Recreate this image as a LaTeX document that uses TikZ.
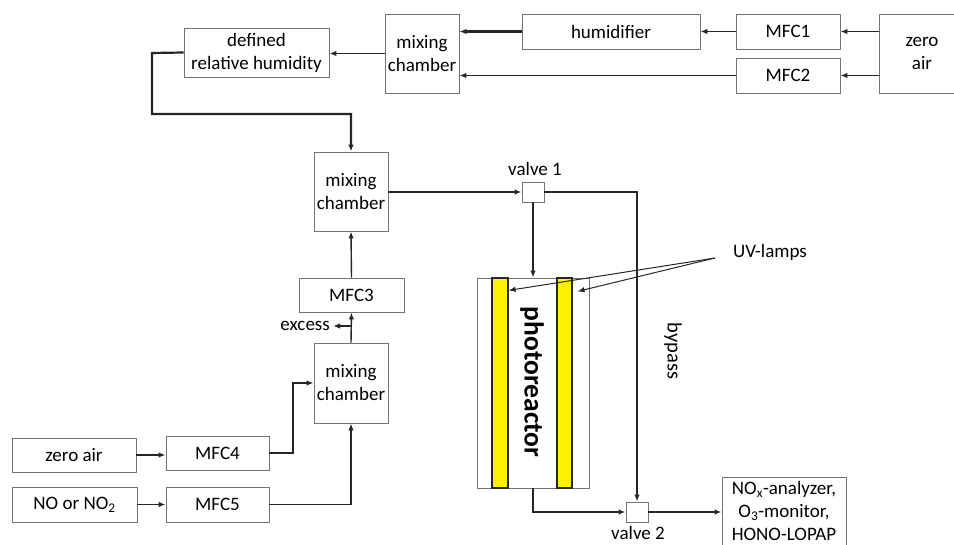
\documentclass[tikz,border=0pt]{standalone}
\usepackage{fontspec}
\setmainfont{Carlito}
\usepackage{tikz}
\usetikzlibrary{calc}
\usetikzlibrary{arrows.meta}
\tikzset{>={Latex[length=7pt,width=5.5pt]}}

\begin{document}
\begin{tikzpicture}[x=1pt,y=-1pt,font=\fontsize{19}{23}\selectfont,
	box/.style={draw=black!55,line width=0.9pt,inner sep=0pt,align=center},
	lamp/.style={draw=black!85,fill=yellow,line width=1.2pt,inner sep=0pt},
	flow/.style={->,line width=1.4pt,black!85},
	mainflow/.style={->,line width=2.2pt,black!85},
	pointer/.style={->,line width=1pt,black!85}]
	\useasboundingbox (0,0) rectangle (954,545);
	% humidified air line
	\node[box,minimum width=86,minimum height=79] (zeroair) at (922,53.5) {zero\\air};
	\node[box,minimum width=104,minimum height=35] (mfc1) at (788,31.5) {MFC1};
	\node[box,minimum width=104,minimum height=35] (mfc2) at (788,75.5) {MFC2};
	\node[box,minimum width=178,minimum height=35] (humid) at (611,31.5) {humidifier};
	\node[box,minimum width=74,minimum height=79] (mix1) at (422,53.5) {mixing\\chamber};
	\node[box,minimum width=145,minimum height=49] (rh) at (256.5,52.5) {defined\\relative humidity};
	\draw[flow] (zeroair.west |- mfc1) -- (mfc1.east);
	\draw[flow] (zeroair.west |- mfc2) -- (mfc2.east);
	\draw[flow] (mfc1.west) -- (humid.east);
	\draw[mainflow] (humid.west) -- (humid.west -| mix1.east);
	\draw[flow] (mfc2.west) -- (mfc2.west -| mix1.east);
	\draw[flow] (mix1.west) -- (mix1.west -| rh.east);
	% NO / NO2 line
	\node[box,minimum width=124,minimum height=34] (zair) at (74,455) {zero air};
	\node[box,minimum width=103,minimum height=34] (mfc4) at (217.5,453) {MFC4};
	\node[box,minimum width=125,minimum height=35] (nosrc) at (74.5,504.5) {NO or NO\textsubscript{2}};
	\node[box,minimum width=103,minimum height=35] (mfc5) at (217.5,504.5) {MFC5};
	\node[box,minimum width=74,minimum height=80] (mix3) at (351,383) {mixing\\chamber};
	\node[box,minimum width=105,minimum height=34] (mfc3) at (351.5,295) {MFC3};
	\node[anchor=east,inner sep=3pt] (excess) at (333,326) {excess};
	\node[box,minimum width=74,minimum height=79] (mix2) at (351,191.5) {mixing\\chamber};
	\coordinate (split) at (352,326);
	\draw[mainflow] (zair.east) -- (zair.east -| mfc4.west);
	\draw[flow] (nosrc.east) -- (mfc5.west);
	\draw[mainflow] (mfc4.east) -- (293,453) |- (mix3.west);
	\draw[flow] (mfc5.east) -| (mix3.south);
	\draw[flow] (mix3.north) -- (mfc3.south);
	\draw[flow] (split) -- (excess.east);
	\draw[flow] (mfc3.north) -- (mix2.south);
	\draw[mainflow] (rh.west) -- (152,53) -- (152,114) -- (351,114) -- (mix2.north);
	% photoreactor and bypass
	\node[box,minimum width=22,minimum height=20] (valve1) at (533,192) {};
	\node (v1label) at (535,169) {valve 1};
	\node[box,minimum width=112,minimum height=210] (reactor) at (533,383) {};
	\node[lamp,minimum width=16,minimum height=210] (lampL) at (500,383) {};
	\node[lamp,minimum width=15,minimum height=210] (lampR) at (564.5,383) {};
	\node[rotate=-90,font=\fontsize{27.5}{30}\selectfont\bfseries] (photo) at (532,382) {photoreactor};
	\node[box,minimum width=22,minimum height=20] (valve2) at (637,512) {};
	\node (v2label) at (638,533) {valve 2};
	\node[box,anchor=north,minimum width=124,inner ysep=4pt] (analyzer) at (784,477)
		{NO\textsubscript{x}-analyzer,\\O\textsubscript{3}-monitor,\\HONO-LOPAP\\[4pt]};
	\node[rotate=-90,font=\fontsize{20.5}{23}\selectfont] (bypass) at (673,351) {bypass};
	\node (uvlabel) at (770,252) {UV-lamps};
	\coordinate (uv) at (715,258);
	\draw[flow] (mix2.east |- valve1) -- (valve1.west);
	\draw[flow] (valve1.south) -- (valve1.south |- reactor.north);
	\draw[flow] (valve1.east) -| (valve2.north);
	\draw[mainflow] (reactor.south) |- (valve2.west);
	\draw[flow] (valve2.east) -- (valve2.east -| analyzer.west);
	\draw[pointer] (uv) -- ($(lampL.north east)+(0,13)$);
	\draw[pointer] (uv) -- ($(lampR.north east)+(5,14)$);
\end{tikzpicture}
\end{document}
